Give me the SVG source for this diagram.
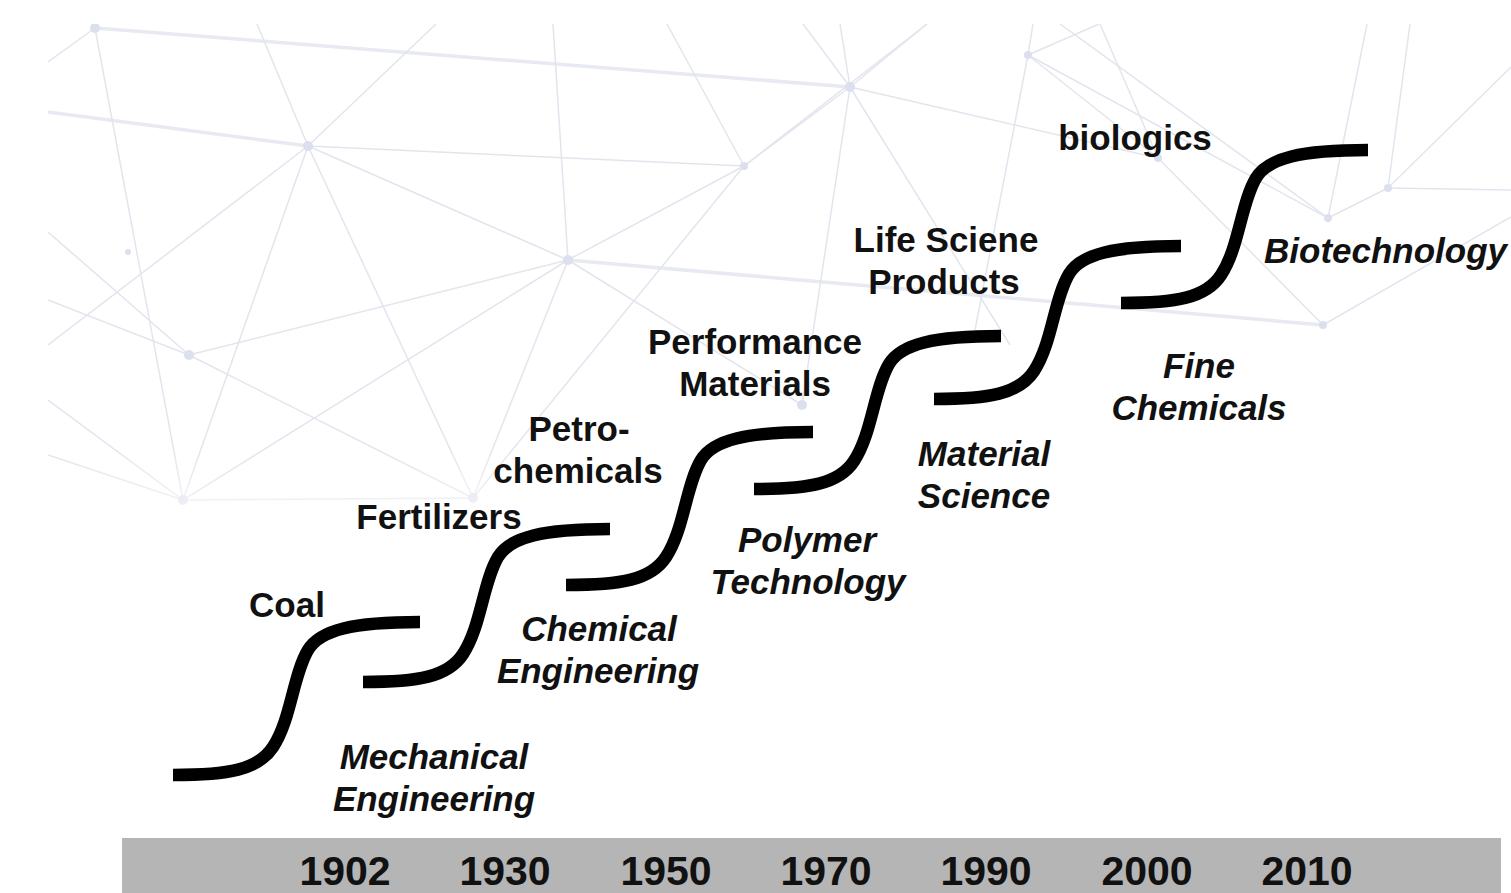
<svg xmlns="http://www.w3.org/2000/svg" width="1511" height="893" viewBox="0 0 1511 893">
  <style>
    .lbl { font-family: "Liberation Sans", Arial, Helvetica, sans-serif; font-weight: bold; font-size: 35px; fill: #111; text-anchor: middle; }
    .it { font-style: italic; }
    .yr { font-size: 41px; }
    .curve { fill: none; stroke: #000; stroke-width: 12.5; stroke-linecap: butt; }
    .net line { stroke: #e3e5ee; stroke-width: 1.5; }
    .net line.wide { stroke: #e8eaf2; stroke-width: 3.5; }
    .net circle { fill: #dcdfee; }
  </style>
  <defs>
    <!-- one S-shaped step, drawn from its lower-left end -->
    <path id="step" d="M0,0 C55,0 85,-5 100,-28 C118,-55 120,-100 135,-125 C147,-145 180,-153 247,-153"/>
    <clipPath id="netClip">
      <rect x="48" y="24" width="1463" height="520"/>
    </clipPath>
    <linearGradient id="netFade" x1="0" y1="0" x2="0" y2="1">
      <stop offset="0" stop-color="#fff"/>
      <stop offset="0.8" stop-color="#fff"/>
      <stop offset="1" stop-color="#fff" stop-opacity="0"/>
    </linearGradient>
    <mask id="netMask" maskUnits="userSpaceOnUse" x="0" y="0" width="1511" height="560">
      <rect x="0" y="0" width="1511" height="560" fill="url(#netFade)"/>
    </mask>
  </defs>

  <rect width="1511" height="893" fill="#fff"/>

  <!-- faint network backdrop -->
  <g class="net" clip-path="url(#netClip)" mask="url(#netMask)">
    <line class="wide" x1="95" y1="28" x2="850" y2="87"/>
    <line class="wide" x1="48" y1="112" x2="308" y2="146"/>
    <line class="wide" x1="568" y1="260" x2="1323" y2="325"/>
    <line x1="48" y1="62" x2="95" y2="28"/>
    <line x1="95" y1="28" x2="183" y2="500"/>
    <line x1="257" y1="24" x2="308" y2="146"/>
    <line x1="308" y1="146" x2="473" y2="498"/>
    <line x1="436" y1="24" x2="308" y2="146"/>
    <line x1="308" y1="146" x2="48" y2="345"/>
    <line x1="308" y1="146" x2="568" y2="260"/>
    <line x1="308" y1="146" x2="183" y2="500"/>
    <line x1="308" y1="146" x2="744" y2="166"/>
    <line x1="48" y1="232" x2="189" y2="355"/>
    <line x1="48" y1="300" x2="189" y2="355"/>
    <line x1="189" y1="355" x2="568" y2="260"/>
    <line x1="189" y1="355" x2="473" y2="498"/>
    <line x1="48" y1="400" x2="183" y2="500"/>
    <line x1="48" y1="455" x2="183" y2="500"/>
    <line x1="183" y1="500" x2="473" y2="498"/>
    <line x1="183" y1="500" x2="568" y2="260"/>
    <line x1="553" y1="24" x2="568" y2="260"/>
    <line x1="568" y1="260" x2="744" y2="166"/>
    <line x1="568" y1="260" x2="473" y2="498"/>
    <line x1="568" y1="260" x2="802" y2="405"/>
    <line x1="667" y1="24" x2="744" y2="166"/>
    <line x1="744" y1="166" x2="850" y2="87"/>
    <line x1="744" y1="166" x2="473" y2="498"/>
    <line x1="744" y1="166" x2="927" y2="24"/>
    <line x1="850" y1="87" x2="803" y2="24"/>
    <line x1="850" y1="87" x2="840" y2="24"/>
    <line x1="850" y1="87" x2="927" y2="24"/>
    <line x1="850" y1="87" x2="802" y2="405"/>
    <line x1="850" y1="87" x2="1010" y2="345"/>
    <line x1="850" y1="87" x2="1158" y2="158"/>
    <line x1="1028" y1="55" x2="1033" y2="24"/>
    <line x1="1028" y1="55" x2="1099" y2="24"/>
    <line x1="1028" y1="55" x2="975" y2="330"/>
    <line x1="1028" y1="55" x2="1328" y2="218"/>
    <line x1="1028" y1="55" x2="1158" y2="158"/>
    <line x1="1158" y1="158" x2="1323" y2="325"/>
    <line x1="1158" y1="158" x2="1100" y2="24"/>
    <line x1="1328" y1="218" x2="1367" y2="24"/>
    <line x1="1328" y1="218" x2="1388" y2="188"/>
    <line x1="1328" y1="218" x2="1060" y2="24"/>
    <line x1="1388" y1="188" x2="1410" y2="24"/>
    <line x1="1388" y1="188" x2="1511" y2="67"/>
    <line x1="1388" y1="188" x2="1511" y2="190"/>
    <line x1="1323" y1="325" x2="1511" y2="217"/>
    <circle cx="95" cy="28" r="5"/>
    <circle cx="308" cy="146" r="5"/>
    <circle cx="128" cy="252" r="3"/>
    <circle cx="189" cy="355" r="5"/>
    <circle cx="568" cy="260" r="5"/>
    <circle cx="183" cy="500" r="5"/>
    <circle cx="473" cy="498" r="5"/>
    <circle cx="744" cy="166" r="4"/>
    <circle cx="850" cy="87" r="5"/>
    <circle cx="802" cy="405" r="5"/>
    <circle cx="1028" cy="55" r="4"/>
    <circle cx="1158" cy="158" r="4"/>
    <circle cx="1328" cy="218" r="4"/>
    <circle cx="1388" cy="188" r="4"/>
    <circle cx="1323" cy="325" r="4"/>
  </g>

  <!-- timeline bar -->
  <g id="timeline">
    <rect x="122" y="838" width="1379" height="55" fill="#b5b5b5"/>
    <text class="lbl yr" x="345" y="885">1902</text>
    <text class="lbl yr" x="505" y="885">1930</text>
    <text class="lbl yr" x="666" y="885">1950</text>
    <text class="lbl yr" x="826" y="885">1970</text>
    <text class="lbl yr" x="986" y="885">1990</text>
    <text class="lbl yr" x="1147" y="885">2000</text>
    <text class="lbl yr" x="1307" y="885">2010</text>
  </g>

  <!-- S-curve steps -->
  <g id="connectors">
    <use href="#step" class="curve" transform="translate(173,775)"/>
    <use href="#step" class="curve" transform="translate(363,682)"/>
    <use href="#step" class="curve" transform="translate(566,585)"/>
    <use href="#step" class="curve" transform="translate(754,489)"/>
    <use href="#step" class="curve" transform="translate(934,399)"/>
    <use href="#step" class="curve" transform="translate(1121,303)"/>
  </g>

  <!-- resources (upper labels) -->
  <g id="coal"><text class="lbl" x="287" y="617">Coal</text></g>
  <g id="fertilizers"><text class="lbl" x="439" y="529">Fertilizers</text></g>
  <g id="petrochemicals">
    <text class="lbl" x="579" y="441">Petro-</text>
    <text class="lbl" x="578" y="483">chemicals</text>
  </g>
  <g id="performance-materials">
    <text class="lbl" x="755" y="354">Performance</text>
    <text class="lbl" x="755" y="396">Materials</text>
  </g>
  <g id="life-science-products">
    <text class="lbl" x="946" y="252">Life Sciene</text>
    <text class="lbl" x="944" y="294">Products</text>
  </g>
  <g id="biologics"><text class="lbl" x="1135" y="150">biologics</text></g>

  <!-- disciplines (lower labels) -->
  <g id="mechanical-engineering">
    <text class="lbl it" x="434" y="769">Mechanical</text>
    <text class="lbl it" x="434" y="811">Engineering</text>
  </g>
  <g id="chemical-engineering">
    <text class="lbl it" x="599" y="641">Chemical</text>
    <text class="lbl it" x="598" y="683">Engineering</text>
  </g>
  <g id="polymer-technology">
    <text class="lbl it" x="807" y="552">Polymer</text>
    <text class="lbl it" x="808" y="594">Technology</text>
  </g>
  <g id="material-science">
    <text class="lbl it" x="984" y="466">Material</text>
    <text class="lbl it" x="984" y="508">Science</text>
  </g>
  <g id="fine-chemicals">
    <text class="lbl it" x="1199" y="378">Fine</text>
    <text class="lbl it" x="1199" y="420">Chemicals</text>
  </g>
  <g id="biotechnology">
    <text class="lbl it" x="1264" y="263" style="text-anchor:start">Biotechnology</text>
  </g>
</svg>
